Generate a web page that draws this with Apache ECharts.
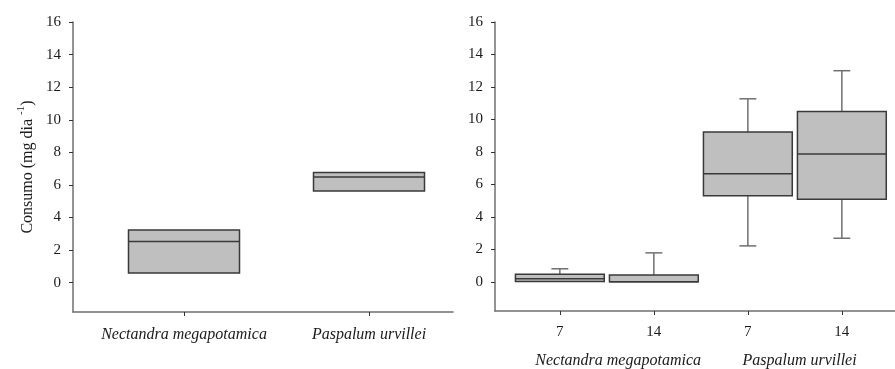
<!DOCTYPE html>
<html>
<head>
<meta charset="utf-8">
<script src="https://cdn.jsdelivr.net/npm/echarts@6/dist/echarts.min.js"></script>
<style>
html,body{margin:0;padding:0;background:#fff;}
#chart{width:895px;height:369px;}
</style>
</head>
<body>
<div id="chart"></div>
<script>
// ---- data ----
const leftCategories = ['Nectandra megapotamica', 'Paspalum urvillei'];
const leftMin    = [0.60, 5.62];
const leftQ1     = [0.60, 5.62];
const leftMedian = [2.52, 6.48];
const leftQ3     = [3.23, 6.76];
const leftMax    = [3.23, 6.76];

const rightTickLabels = ['7', '14', '7', '14'];
const rightGroups = ['Nectandra megapotamica', 'Paspalum urvillei'];
const rightMin    = [0.02, 0.00, 2.21, 2.68];
const rightQ1     = [0.02, 0.00, 5.30, 5.08];
const rightMedian = [0.18, 0.00, 6.66, 7.87];
const rightQ3     = [0.47, 0.41, 9.22, 10.49];
const rightMax    = [0.80, 1.78, 11.27, 13.00];

const yTicks = [0, 2, 4, 6, 8, 10, 12, 14, 16];
const groupLabelPos = [1.62, 3.55];

// ---- helpers ----
function buildData(mn, q1, md, q3, mx) {
  return mn.map((v, i) => [i + 1, mn[i], q1[i], md[i], q3[i], mx[i]]);
}
const FONT = '"Liberation Serif", "Times New Roman", serif';
const AXIS_COLOR = '#6f6f6f';
const TEXT_COLOR = '#1a1a1a';

function boxRenderer(boxW, capW) {
  return function (params, api) {
    const x = api.value(0);
    const mn = api.value(1), q1 = api.value(2), md = api.value(3), q3 = api.value(4), mx = api.value(5);
    const w = api.size([boxW, 0])[0];
    const cw = api.size([capW, 0])[0];
    const pMax = api.coord([x, mx]);
    const pQ3 = api.coord([x, q3]);
    const pMd = api.coord([x, md]);
    const pQ1 = api.coord([x, q1]);
    const pMin = api.coord([x, mn]);
    const cx = pQ3[0];
    const children = [];
    const whiskerStyle = { stroke: '#707070', lineWidth: 1.5 };
    if (mx > q3) {
      children.push({ type: 'line', shape: { x1: cx, y1: pMax[1], x2: cx, y2: pQ3[1] }, style: whiskerStyle });
      children.push({ type: 'line', shape: { x1: cx - cw / 2, y1: pMax[1], x2: cx + cw / 2, y2: pMax[1] }, style: whiskerStyle });
    }
    if (mn < q1) {
      children.push({ type: 'line', shape: { x1: cx, y1: pQ1[1], x2: cx, y2: pMin[1] }, style: whiskerStyle });
      children.push({ type: 'line', shape: { x1: cx - cw / 2, y1: pMin[1], x2: cx + cw / 2, y2: pMin[1] }, style: whiskerStyle });
    }
    children.push({
      type: 'rect',
      shape: { x: cx - w / 2, y: pQ3[1], width: w, height: pQ1[1] - pQ3[1] },
      style: { fill: '#bfbfbf', stroke: '#3a3a3a', lineWidth: 1.5 }
    });
    children.push({
      type: 'line',
      shape: { x1: cx - w / 2, y1: pMd[1], x2: cx + w / 2, y2: pMd[1] },
      style: { stroke: '#3a3a3a', lineWidth: 1.5 }
    });
    return { type: 'group', children: children };
  };
}

function yAxisDef(gridIndex, withName) {
  const a = {
    type: 'value', gridIndex: gridIndex, min: -1.8, max: 16,
    axisLine: { show: true, lineStyle: { color: AXIS_COLOR, width: 1.5 } },
    axisTick: { show: true, length: 4, customValues: yTicks, lineStyle: { color: '#333', width: 1 } },
    axisLabel: { customValues: yTicks, margin: 12, color: TEXT_COLOR, fontFamily: FONT, fontSize: 15 },
    splitLine: { show: false }
  };
  if (withName) {
    a.name = 'Consumo (mg dia {sup|-1})';
    a.nameLocation = 'middle';
    a.nameGap = 33;
    a.nameTextStyle = {
      color: TEXT_COLOR, fontFamily: FONT, fontSize: 16, lineHeight: 24,
      rich: { sup: { fontFamily: FONT, fontSize: 11, color: TEXT_COLOR, verticalAlign: 'top', lineHeight: 24 } }
    };
  }
  return a;
}

const option = {
  backgroundColor: '#ffffff',
  animation: false,
  grid: [
    { left: 73, top: 22, width: 380, height: 290 },
    { left: 495, top: 22, width: 400, height: 290 }
  ],
  xAxis: [
    {
      type: 'value', gridIndex: 0, min: 0.4, max: 2.454,
      axisLine: { show: true, onZero: false, lineStyle: { color: AXIS_COLOR, width: 1.5 } },
      axisTick: { show: true, length: 4, customValues: [1, 2], lineStyle: { color: '#333' } },
      axisLabel: {
        customValues: [1, 2], margin: 15, color: TEXT_COLOR, fontFamily: FONT, fontSize: 16, fontStyle: 'italic',
        formatter: v => leftCategories[Math.round(v) - 1]
      },
      splitLine: { show: false }
    },
    {
      type: 'value', gridIndex: 1, min: 0.31, max: 0.31 + 400 / 94,
      axisLine: { show: true, onZero: false, lineStyle: { color: AXIS_COLOR, width: 1.5 } },
      axisTick: { show: true, length: 4, customValues: [1, 2, 3, 4], lineStyle: { color: '#333' } },
      axisLabel: {
        customValues: [1, 2, 3, 4], margin: 14, color: TEXT_COLOR, fontFamily: FONT, fontSize: 15,
        formatter: v => rightTickLabels[Math.round(v) - 1]
      },
      splitLine: { show: false }
    },
    {
      type: 'value', gridIndex: 1, min: 0.31, max: 0.31 + 400 / 94, position: 'bottom',
      axisLine: { show: false }, axisTick: { show: false },
      axisLabel: {
        customValues: groupLabelPos, margin: 42, color: TEXT_COLOR, fontFamily: FONT, fontSize: 16, fontStyle: 'italic',
        hideOverlap: false,
        formatter: v => rightGroups[v < 2.5 ? 0 : 1]
      },
      splitLine: { show: false }
    }
  ],
  yAxis: [yAxisDef(0, true), yAxisDef(1, false)],
  series: [
    {
      type: 'custom', xAxisIndex: 0, yAxisIndex: 0,
      renderItem: boxRenderer(0.6, 0.18),
      encode: { x: 0, y: [1, 2, 3, 4, 5] },
      data: buildData(leftMin, leftQ1, leftMedian, leftQ3, leftMax)
    },
    {
      type: 'custom', xAxisIndex: 1, yAxisIndex: 1,
      renderItem: boxRenderer(0.945, 0.18),
      encode: { x: 0, y: [1, 2, 3, 4, 5] },
      data: buildData(rightMin, rightQ1, rightMedian, rightQ3, rightMax)
    }
  ]
};

const chart = echarts.init(document.getElementById('chart'), null, { renderer: 'canvas' });
chart.setOption(option);
</script>
</body>
</html>
